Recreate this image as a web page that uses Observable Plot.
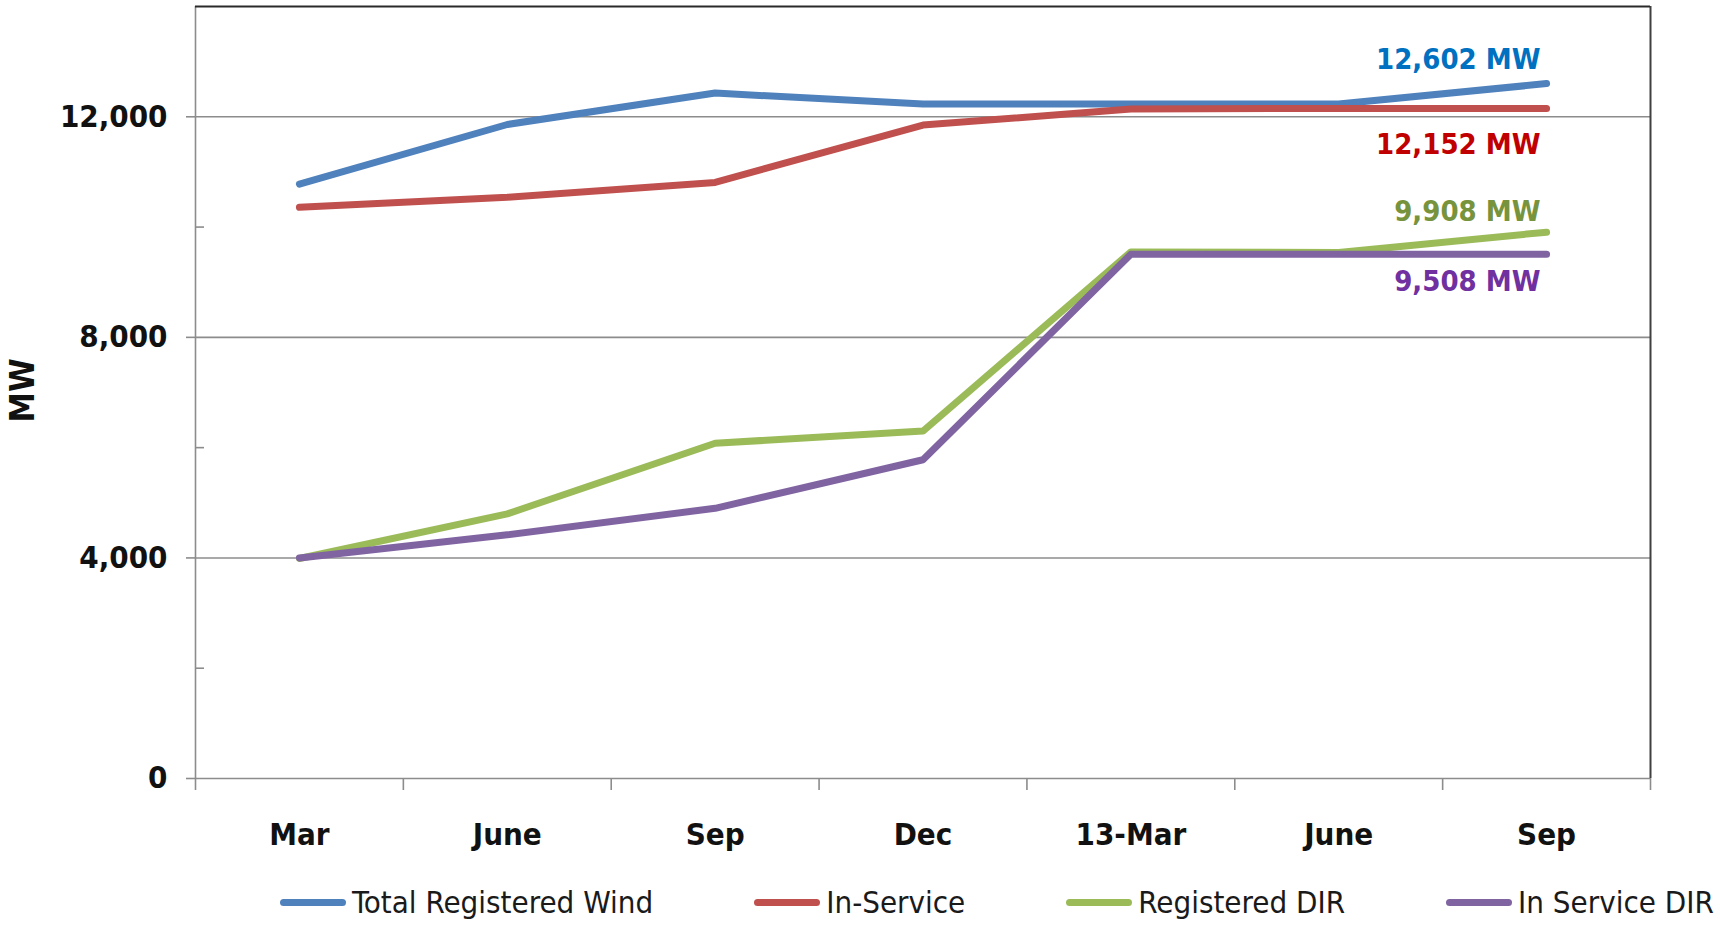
<!DOCTYPE html>
<html>
<head>
<meta charset="utf-8">
<script src="https://cdn.jsdelivr.net/npm/d3@7"></script>
<script src="https://cdn.jsdelivr.net/npm/@observablehq/plot@0.6"></script>
<style>
  html, body { margin: 0; padding: 0; background: #fff; }
  #wrap { position: relative; width: 1720px; height: 926px; overflow: hidden; }
  #legend {
    position: absolute; left: 280px; top: 880px; height: 44px; width: max-content;
    display: flex; align-items: center; gap: 101px;
    font-family: "DejaVu Sans Condensed", "DejaVu Sans", sans-serif;
    font-stretch: condensed;
    font-size: 31px; color: #1a1a1a;
  }
  .item { display: flex; align-items: center; white-space: nowrap; flex: none; }
  .sw { width: 66px; height: 7px; border-radius: 4px; margin-right: 6px; }
</style>
</head>
<body>
<div id="wrap">
  <div id="chart"></div>
  <div id="legend"></div>
</div>
<script>
// ---- data ----
const categories = ["Mar", "June", "Sep", "Dec", "13-Mar", "June", "Sep"];
const seriesNames = ["Total Registered Wind", "In-Service", "Registered DIR", "In Service DIR"];
const totalRegisteredWind = [10780, 11860, 12430, 12230, 12230, 12230, 12602];
const inService = [10360, 10540, 10810, 11850, 12140, 12152, 12152];
const registeredDIR = [3990, 4800, 6080, 6300, 9550, 9540, 9908];
const inServiceDIR = [4000, 4420, 4900, 5780, 9508, 9508, 9508];
const yGridTicks = [0, 4000, 8000, 12000];
const yMinorTicks = [2000, 6000, 10000];
const yMax = 14000;

// ---- styles ----
const FONT = '"DejaVu Sans Condensed", "DejaVu Sans", sans-serif';
const lineColors = ["#4F81BD", "#C0504D", "#9BBB59", "#8064A2"];
const labelColors = ["#0070C0", "#C00000", "#77933C", "#7030A0"];
const labelDy = [-24, 36, -20, 28];

const seriesValues = [totalRegisteredWind, inService, registeredDIR, inServiceDIR];
const rows = [];
seriesNames.forEach((s, k) => {
  seriesValues[k].forEach((v, i) => rows.push({series: s, x: i + 0.5, value: v}));
});
const endLabels = seriesNames.map((s, k) => {
  const vals = seriesValues[k];
  return {series: s, x: vals.length - 0.5, value: vals[vals.length - 1],
          text: d3.format(",")(vals[vals.length - 1]) + " MW"};
});

const gridColor = "#8c8c8c";
const n = categories.length;

const chart = Plot.plot({
  width: 1720,
  height: 872,
  marginLeft: 195,
  marginRight: 70,
  marginTop: 6,
  marginBottom: 94,
  style: {fontFamily: FONT, fontSize: "31px", fontWeight: "bold", background: "#fff", color: "#111", overflow: "visible"},
  x: {domain: [0, n], axis: null},
  y: {domain: [0, yMax], axis: null},
  color: {domain: seriesNames, range: lineColors},
  marks: [
    Plot.ruleY(yGridTicks, {stroke: gridColor, strokeWidth: 1.6}),
    Plot.axisY({ticks: yGridTicks, tickSize: 9, tickPadding: 19, tickFormat: d3.format(","), label: null,
                stroke: gridColor, strokeWidth: 1.6, fontSize: 31, fontWeight: "bold"}),
    Plot.axisY({ticks: yMinorTicks, tickSize: -9, tickFormat: () => "", label: null, stroke: gridColor, strokeWidth: 1.6}),
    Plot.ruleX([0], {stroke: gridColor, strokeWidth: 1.6}),
    Plot.ruleX([n], {stroke: "#404040", strokeWidth: 2}),
    Plot.ruleY([yMax], {stroke: "#2a2a2a", strokeWidth: 2.2}),
    Plot.axisX({ticks: d3.range(n + 1), tickSize: 12, tickFormat: () => "", label: null, stroke: gridColor, strokeWidth: 1.6}),
    Plot.axisX({ticks: categories.map((c, i) => i + 0.5), tickSize: 0, tickPadding: 44, label: null,
                tickFormat: (t) => categories[Math.floor(t)], fontSize: 31, fontWeight: "bold"}),
    Plot.line(rows, {x: "x", y: "value", z: "series", stroke: "series", strokeWidth: 7,
                     strokeLinejoin: "round", strokeLinecap: "round"}),
    ...endLabels.map((d, k) => Plot.text([d], {x: "x", y: "value", text: "text", fill: labelColors[k],
                          dy: labelDy[k], textAnchor: "end", dx: -6, fontSize: 29, fontWeight: "bold"})),
    Plot.text(["MW"], {frameAnchor: "left", rotate: -90, dx: -172, dy: 30, fontSize: 34, fontWeight: "bold"})
  ]
});
document.getElementById("chart").appendChild(chart);

// ---- legend ----
const legend = document.getElementById("legend");
seriesNames.forEach((s, k) => {
  const item = document.createElement("div");
  item.className = "item";
  const sw = document.createElement("div");
  sw.className = "sw";
  sw.style.background = lineColors[k];
  const label = document.createElement("span");
  label.textContent = s;
  item.appendChild(sw);
  item.appendChild(label);
  legend.appendChild(item);
});
</script>
</body>
</html>
